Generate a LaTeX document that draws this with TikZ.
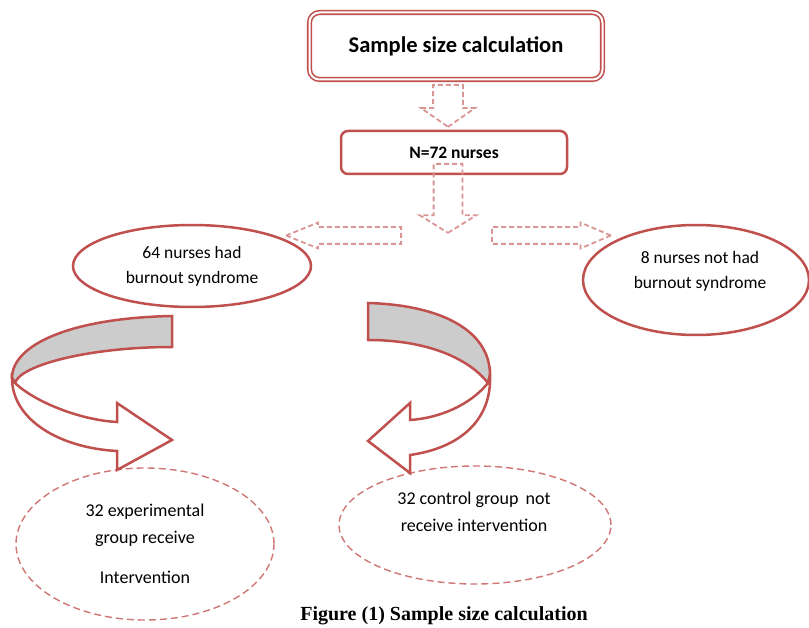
\documentclass[tikz,border=0pt]{standalone}
\usepackage{fontspec}
\setmainfont{Carlito}
\newfontfamily\capfont{Liberation Serif}
\usetikzlibrary{shapes.geometric,shapes.arrows}
\definecolor{boxred}{RGB}{192,80,77}
\definecolor{dashred}{RGB}{217,149,148}
\definecolor{ovalred}{RGB}{208,118,116}

\begin{document}
\begin{tikzpicture}[x=1pt, y=-1pt,
        box/.style = {draw=boxred, fill=white, rounded corners=7pt, line width=2.5pt},
        oval/.style = {draw=boxred, fill=white, ellipse, line width=2.5pt, align=center, inner sep=0pt, font=\fontsize{17.5}{25}\selectfont},
        dashoval/.style = {draw=ovalred, ellipse, dash pattern=on 7pt off 4pt, line width=1.4pt, inner sep=0pt},
        fatarrow/.style = {draw=dashred, single arrow, anchor=tail, dash pattern=on 5pt off 3pt, line width=1.8pt, inner xsep=0pt, single arrow head indent=0pt},
        twist/.style = {draw=boxred, line width=2.5pt, line join=miter}]
    \useasboundingbox (0,0) rectangle (809,628);

    \node[box, double, double distance=2pt, line width=1.6pt, rounded corners=10pt, minimum width=293, minimum height=67, font=\bfseries\fontsize{22.5}{26}\selectfont] (calc) at (456,46) {Sample size calculation};
    \node[box, minimum width=226, minimum height=43, font=\bfseries\fontsize{17.5}{20}\selectfont] (n72) at (454,152.5) {N=72 nurses};
    \node[oval, minimum width=238, minimum height=82] (had) at (192,266) {64 nurses had\\burnout syndrome};
    \node[oval, minimum width=226, minimum height=110] (nothad) at (696,280) {};
    \node[align=center, font=\fontsize{17.5}{25}\selectfont] (nothadtext) at (700,271) {8 nurses not had\\burnout syndrome};
    \node[dashoval, minimum width=258, minimum height=152, align=center, font=\fontsize{18}{27}\selectfont] (exp) at (145,544) {32 experimental\\group receive\\[13pt]Intervention};
    \node[dashoval, minimum width=272, minimum height=118] (ctrl) at (475,525) {};
    \node[align=center, font=\fontsize{18}{27}\selectfont] (ctrltext) at (474,512) {32 control group\, not\\receive intervention};

    % dashed block arrows
    \node[fatarrow, rotate=-90, minimum height=42, minimum width=52, inner ysep=14, single arrow head extend=12, single arrow tip angle=110] (a1) at (448,84) {};
    \node[fatarrow, rotate=-90, minimum height=69, minimum width=55, inner ysep=13.5, single arrow head extend=14, single arrow tip angle=116] (a2) at (448,163) {};
    \node[fatarrow, rotate=180, minimum height=115, minimum width=24, inner ysep=7.5, single arrow head extend=4.5, single arrow tip angle=44] (aleft) at (402,235.5) {};
    \node[fatarrow, minimum height=119, minimum width=24, inner ysep=7.5, single arrow head extend=4.5, single arrow tip angle=46] (aright) at (491,235.5) {};

    % curved arrows
    \filldraw[twist, fill=black!20] (172,316) .. controls (70,318) and (12,345) .. (12,378) -- (15,383) .. controls (20,365) and (90,347) .. (172,347) -- cycle;
    \filldraw[twist, fill=white] (15,383) .. controls (35,402) and (80,420) .. (117,422) -- (117,403) -- (172,440) -- (117,470) -- (117,451) .. controls (60,448) and (12,420) .. (12,378) -- cycle;
    \filldraw[twist, fill=black!20] (368,303) .. controls (440,305) and (490,330) .. (490,375) -- (488,383) .. controls (470,360) and (430,340) .. (368,340) -- cycle;
    \filldraw[twist, fill=white] (488,383) .. controls (470,405) and (440,418) .. (410,420) -- (410,403) -- (368,441) -- (410,473) -- (410,455) .. controls (460,448) and (492,420) .. (490,375) -- cycle;

    \node[font=\capfont\bfseries\fontsize{20}{22}\selectfont] (cap) at (444,616) {Figure (1) Sample size calculation};
\end{tikzpicture}
\end{document}
